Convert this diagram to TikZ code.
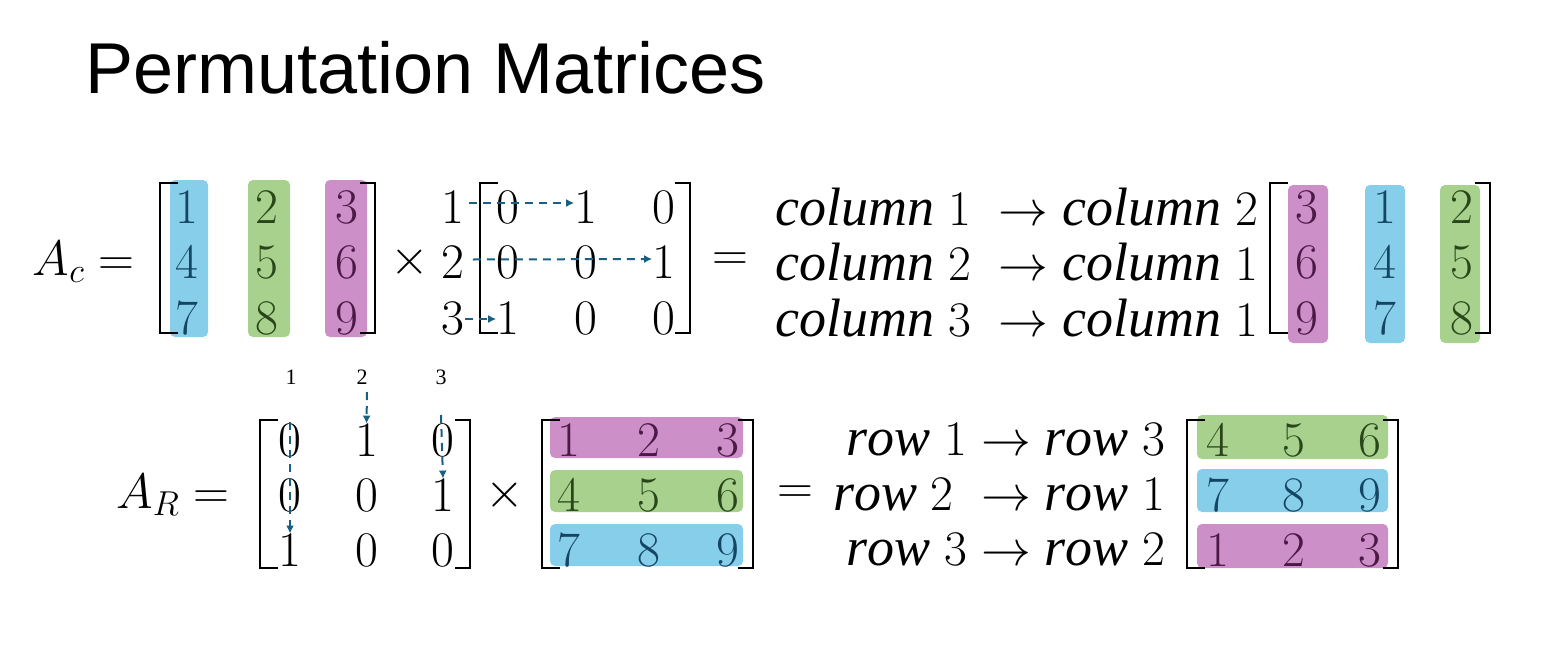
\documentclass[tikz,border=0pt]{standalone}
\usepackage{amsmath}
\usepackage{fontspec}
\setmainfont{Liberation Serif}
\setsansfont{Liberation Sans}
\usetikzlibrary{arrows.meta}
\definecolor{cblue}{RGB}{135,206,235}
\definecolor{cgreen}{RGB}{169,209,142}
\definecolor{cpurple}{RGB}{204,143,200}
\definecolor{tblue}{RGB}{20,70,100}
\definecolor{tgreen}{RGB}{40,70,25}
\definecolor{tpurple}{RGB}{75,25,70}
\definecolor{arr}{RGB}{25,95,130}
\tikzset{
  ent/.style={inner sep=0pt,font=\fontsize{26}{26}\selectfont},
  big/.style={inner sep=0pt,font=\fontsize{26}{26}\selectfont},
  txt/.style={inner sep=0pt,font=\fontsize{27}{27}\selectfont},
  small/.style={inner sep=0pt,font=\fontsize{11}{11}\selectfont},
  bx/.style={rounded corners=2.5pt},
  brk/.style={line width=1.4pt},
  darr/.style={arr,dashed,line width=1pt,dash pattern=on 4pt off 3pt,-{Latex[length=4pt,width=4pt]}}
}
\begin{document}
\begin{tikzpicture}[x=0.5pt,y=0.5pt,yscale=-1]
  \useasboundingbox (0,0) rectangle (1557,648);

  % Title
  \node[anchor=west,inner sep=0pt,font=\sffamily\fontsize{36}{36}\selectfont] (title) at (85,68) {Permutation Matrices};

  %% first line: column permutation
  \node[big,anchor=east] (Ac) at (135,262) {$A_c =$};
  % colour bars
  \fill[cblue,bx] (170,180) rectangle (208,337);
  \fill[cgreen,bx] (248,180) rectangle (290,337);
  \fill[cpurple,bx] (325,180) rectangle (367,337);
  % brackets
  \draw[brk] (178,183) -- (160,183) -- (160,333) -- (178,333);
  \draw[brk] (360,183) -- (375,183) -- (375,333) -- (360,333);
  \foreach \v/\c [count=\i] in {1/tblue,2/tgreen,3/tpurple,4/tblue,5/tgreen,6/tpurple,7/tblue,8/tgreen,9/tpurple}{
    \pgfmathtruncatemacro\r{int((\i-1)/3)}
    \pgfmathtruncatemacro\k{mod(\i-1,3)}
    \node[ent,text=\c] (a\i) at ({187+80*\k},{207+55.5*\r}) {$\v$};
  }
  \node[big] (times1) at (410,262) {$\times$};
  \foreach \v [count=\i] in {1,2,3}
    \node[ent] (rl\i) at (453,{207+55.5*(\i-1)}) {$\v$};
  \draw[brk] (498,183) -- (480,183) -- (480,333) -- (498,333);
  \draw[brk] (675,183) -- (690,183) -- (690,333) -- (675,333);
  \foreach \v [count=\i] in {0,1,0,0,0,1,1,0,0}{
    \pgfmathtruncatemacro\r{int((\i-1)/3)}
    \pgfmathtruncatemacro\k{mod(\i-1,3)}
    \node[ent] (p\i) at ({508+78*\k},{207+55.5*\r}) {$\v$};
  }
  \draw[darr] (rl1.east) ++(4,-4) -- (p2.west |- 0,203);
  \draw[darr] (rl2.east) ++(8,-3) -- (p6.west |- 0,259);
  \draw[darr] (rl3.east) ++(0,1) -- (p7.west |- 0,319);
  \node[big] (eq1) at (730,262) {$=$};
  \node[txt,anchor=west] (c1) at (775,207) {$\mathit{column}\;1\;\rightarrow \mathit{column}\;2$};
  \node[txt,anchor=west] (c2) at (775,262) {$\mathit{column}\;2\;\rightarrow \mathit{column}\;1$};
  \node[txt,anchor=west] (c3) at (775,318) {$\mathit{column}\;3\;\rightarrow \mathit{column}\;1$};
  \fill[cpurple,bx] (1288,185) rectangle (1328,343);
  \fill[cblue,bx] (1365,185) rectangle (1405,343);
  \fill[cgreen,bx] (1440,185) rectangle (1480,343);
  \draw[brk] (1288,183) -- (1270,183) -- (1270,333) -- (1288,333);
  \draw[brk] (1475,183) -- (1490,183) -- (1490,333) -- (1475,333);
  \foreach \v/\c [count=\i] in {3/tpurple,1/tblue,2/tgreen,6/tpurple,4/tblue,5/tgreen,9/tpurple,7/tblue,8/tgreen}{
    \pgfmathtruncatemacro\r{int((\i-1)/3)}
    \pgfmathtruncatemacro\k{mod(\i-1,3)}
    \node[ent,text=\c] (b\i) at ({1307+77.5*\k},{207+55.5*\r}) {$\v$};
  }

  %% second line: row permutation
  \foreach \v/\x [count=\i] in {1/291,2/362,3/441}
    \node[small] (cl\i) at (\x,377) {\v};
  \node[big,anchor=east] (AR) at (230,495) {$A_R =$};
  \draw[brk] (278,420) -- (260,420) -- (260,568) -- (278,568);
  \draw[brk] (455,420) -- (470,420) -- (470,568) -- (455,568);
  \foreach \v [count=\i] in {0,1,0,0,0,1,1,0,0}{
    \pgfmathtruncatemacro\r{int((\i-1)/3)}
    \pgfmathtruncatemacro\k{mod(\i-1,3)}
    \node[ent] (q\i) at ({290+76.5*\k},{440+55*\r}) {$\v$};
  }
  \coordinate (s1) at (290,422);
  \coordinate (s2) at (367,392);
  \coordinate (s3) at (441,415);
  \draw[darr] (s1) -- (q7.north);
  \draw[darr] (s2) -- (q2.north);
  \draw[darr] (s3) -- (q6.north);
  \node[big] (times2) at (505,495) {$\times$};
  \fill[cpurple,bx] (550,417) rectangle (743,458);
  \fill[cgreen,bx] (550,470) rectangle (743,512);
  \fill[cblue,bx] (550,524) rectangle (743,566);
  \draw[brk] (560,420) -- (542,420) -- (542,568) -- (560,568);
  \draw[brk] (738,420) -- (753,420) -- (753,568) -- (738,568);
  \foreach \v/\c [count=\i] in {1/tpurple,2/tpurple,3/tpurple,4/tgreen,5/tgreen,6/tgreen,7/tblue,8/tblue,9/tblue}{
    \pgfmathtruncatemacro\r{int((\i-1)/3)}
    \pgfmathtruncatemacro\k{mod(\i-1,3)}
    \node[ent,text=\c] (m\i) at ({569+79.5*\k},{440+55*\r}) {$\v$};
  }
  \node[big] (eq2) at (795,495) {$=$};
  \node[txt,anchor=east] (r1) at (1166,440) {$\mathit{row}\;1\rightarrow\mathit{row}\;3$};
  \node[txt,anchor=east] (r2) at (1166,495) {$\mathit{row}\;2\;\rightarrow\mathit{row}\;1$};
  \node[txt,anchor=east] (r3) at (1166,550) {$\mathit{row}\;3\rightarrow\mathit{row}\;2$};
  \fill[cgreen,bx] (1197,415) rectangle (1388,459);
  \fill[cblue,bx] (1197,469) rectangle (1388,512);
  \fill[cpurple,bx] (1197,524) rectangle (1388,568);
  \draw[brk] (1205,420) -- (1187,420) -- (1187,568) -- (1205,568);
  \draw[brk] (1383,420) -- (1398,420) -- (1398,568) -- (1383,568);
  \foreach \v/\c [count=\i] in {4/tgreen,5/tgreen,6/tgreen,7/tblue,8/tblue,9/tblue,1/tpurple,2/tpurple,3/tpurple}{
    \pgfmathtruncatemacro\r{int((\i-1)/3)}
    \pgfmathtruncatemacro\k{mod(\i-1,3)}
    \node[ent,text=\c] (n\i) at ({1218+76*\k},{440+55*\r}) {$\v$};
  }
\end{tikzpicture}
\end{document}
